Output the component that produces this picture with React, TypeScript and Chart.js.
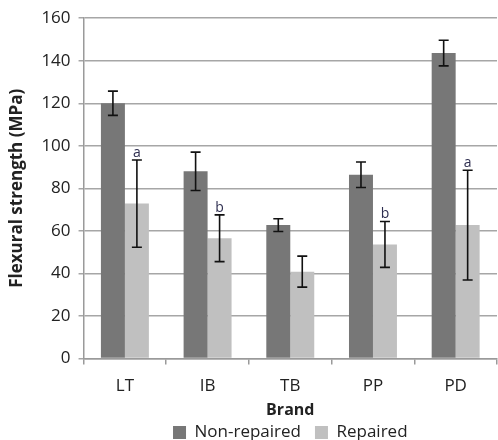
import React, { useEffect, useRef } from "react";
import { Chart, registerables } from "chart.js";

Chart.register(...registerables);

const categories = ["LT", "IB", "TB", "PP", "PD"];
const nonRepaired = [120, 88, 62.7, 86.4, 143.6];
const nonRepairedErr = [5.7, 9, 3, 6, 6];
const repaired = [72.8, 56.5, 40.8, 53.6, 62.7];
const repairedErr = [20.5, 11, 7.3, 10.8, 25.8];
const repairedLetters = ["a", "b", "", "b", "a"];
const yTicks = [0, 20, 40, 60, 80, 100, 120, 140, 160];

const FONT = "'Open Sans', 'DejaVu Sans', sans-serif";

const errorBarPlugin = {
  id: "errorBars",
  afterDatasetsDraw(chart: any) {
    const ctx = chart.ctx;
    const yScale = chart.scales.y;
    const errs = [nonRepairedErr, repairedErr];
    const letters = [null, repairedLetters];
    chart.data.datasets.forEach((ds: any, i: number) => {
      const meta = chart.getDatasetMeta(i);
      meta.data.forEach((el: any, j: number) => {
        const v = ds.data[j];
        const e = errs[i][j];
        const x = el.x;
        const yt = yScale.getPixelForValue(v + e);
        const yb = yScale.getPixelForValue(v - e);
        ctx.save();
        ctx.strokeStyle = "#111";
        ctx.lineWidth = 1.6;
        ctx.beginPath();
        ctx.moveTo(x, yt);
        ctx.lineTo(x, yb);
        ctx.moveTo(x - 5, yt);
        ctx.lineTo(x + 5, yt);
        ctx.moveTo(x - 5, yb);
        ctx.lineTo(x + 5, yb);
        ctx.stroke();
        const lt = letters[i];
        if (lt && lt[j]) {
          ctx.fillStyle = "#2e2e50";
          ctx.font = `14px ${FONT}`;
          ctx.textAlign = "center";
          ctx.textBaseline = "bottom";
          ctx.fillText(lt[j], x, yt);
        }
        ctx.restore();
      });
    });
  },
};

export default function App() {
  const ref = useRef<HTMLCanvasElement>(null);
  useEffect(() => {
    const chart = new Chart(ref.current!, {
      type: "bar",
      data: {
        labels: categories,
        datasets: [
          {
            label: "Non-repaired",
            data: nonRepaired,
            backgroundColor: "#777777",
            categoryPercentage: 0.58,
            barPercentage: 1,
          },
          {
            label: "Repaired",
            data: repaired,
            backgroundColor: "#c0c0c0",
            categoryPercentage: 0.58,
            barPercentage: 1,
          },
        ],
      },
      options: {
        animation: false,
        responsive: false,
        layout: { padding: { top: 6, right: 1, left: 7, bottom: -11 } },
        plugins: {
          tooltip: { enabled: false },
          legend: {
            position: "bottom",
            fullSize: false,
            labels: {
              boxWidth: 13,
              boxHeight: 13,
              color: "#222",
              padding: 14,
              font: { family: FONT, size: 17 },
            },
          },
        },
        scales: {
          x: {
            grid: {
              display: true,
              drawOnChartArea: false,
              drawTicks: true,
              tickLength: 6,
              color: "#9a9a9a",
              lineWidth: 1.5,
              offset: true,
            },
            border: { color: "#9a9a9a", width: 1.5 },
            ticks: { color: "#222", font: { family: FONT, size: 17 }, padding: 12 },
            title: {
              display: true,
              text: "Brand",
              color: "#222",
              font: { family: FONT, size: 16, weight: "bold" },
              padding: { top: -8, bottom: -10 },
            },
          },
          y: {
            min: 0,
            max: 160,
            afterBuildTicks: (axis: any) => {
              axis.ticks = yTicks.map((v) => ({ value: v }));
            },
            grid: {
              color: "#a6a6a6",
              lineWidth: 1.5,
              tickLength: 5,
            },
            border: { color: "#9a9a9a", width: 1.5 },
            ticks: { color: "#222", font: { family: FONT, size: 17 }, padding: 8 },
            title: {
              display: true,
              text: "Flexural strength (MPa)",
              color: "#222",
              font: { family: FONT, size: 17, weight: "bold" },
              padding: { top: 0, bottom: 6 },
            },
          },
        },
      },
      plugins: [errorBarPlugin],
    } as any);
    return () => chart.destroy();
  }, []);
  return (
    <div style={{ position: "absolute", left: 0, top: 0, width: 498, height: 440, background: "#fff" }}>
      <canvas ref={ref} width={498} height={440} />
    </div>
  );
}
